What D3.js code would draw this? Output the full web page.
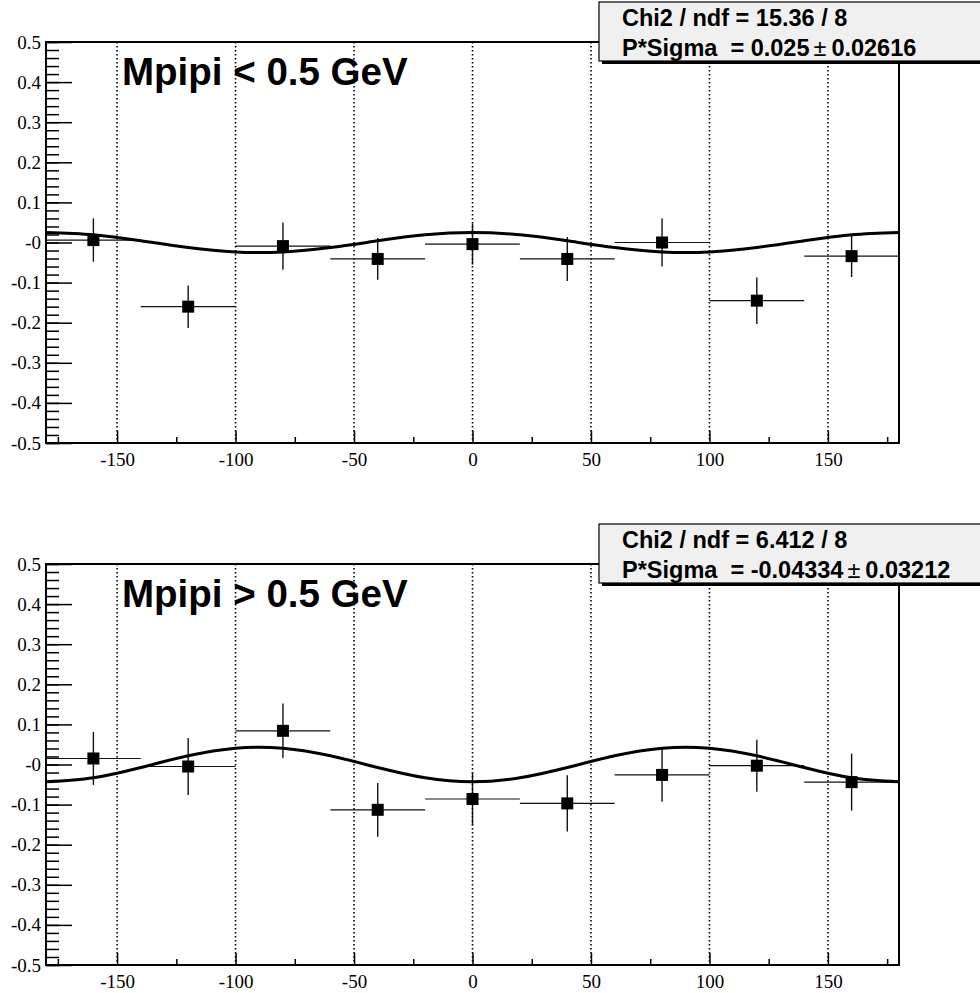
<!DOCTYPE html>
<html lang="en">
<head>
  <meta charset="UTF-8">
  <title>P*Sigma fits</title>
  <style>
    body { margin: 0; background: #fff; }
    svg { display: block; }
    .tick text { font-family: "Liberation Serif", "Times New Roman", serif; font-size: 19px; fill: #000; }
  </style>
</head>
<body>
  <svg id="chart" width="980" height="993"></svg>

  <script src="https://d3js.org/d3.v7.min.js"></script>
  <script>
    // phi bins (deg) and half bin width
    const phiBins = [-160, -120, -80, -40, 0, 40, 80, 120, 160]
    const phiErr = [20, 20, 20, 20, 20, 20, 20, 20, 20]

    // Mpipi < 0.5 GeV
    const asymLow = [0.006, -0.160, -0.009, -0.041, -0.004, -0.041, 0.000, -0.145, -0.034]
    const errLow = [0.054, 0.053, 0.059, 0.052, 0.051, 0.055, 0.060, 0.058, 0.052]

    // Mpipi > 0.5 GeV
    const asymHigh = [0.015, -0.005, 0.084, -0.113, -0.086, -0.097, -0.026, -0.003, -0.044]
    const errHigh = [0.066, 0.071, 0.068, 0.067, 0.066, 0.070, 0.067, 0.065, 0.071]

    // fit curves, read every 20 deg
    const fitPhi = [-180, -160, -140, -120, -100, -80, -60, -40, -20, 0, 20, 40, 60, 80, 100, 120, 140, 160, 180]
    const fitLow = [0.025, 0.0192, 0.0043, -0.0125, -0.0235, -0.0235, -0.0125, 0.0043, 0.0192, 0.025,
      0.0192, 0.0043, -0.0125, -0.0235, -0.0235, -0.0125, 0.0043, 0.0192, 0.025]
    const fitHigh = [-0.0433, -0.0332, -0.0075, 0.0217, 0.0407, 0.0407, 0.0217, -0.0075, -0.0332, -0.0433,
      -0.0332, -0.0075, 0.0217, 0.0407, 0.0407, 0.0217, -0.0075, -0.0332, -0.0433]

    // axis ticks
    const xMajor = [-150, -100, -50, 0, 50, 100, 150]
    const xMinor = [-175, -125, -75, -25, 25, 75, 125, 175]
    const xLabels = ['-150', '-100', '-50', '0', '50', '100', '150']
    const yMajor = [0.5, 0.4, 0.3, 0.2, 0.1, 0, -0.1, -0.2, -0.3, -0.4, -0.5]
    const yLabels = ['0.5', '0.4', '0.3', '0.2', '0.1', '-0', '-0.1', '-0.2', '-0.3', '-0.4', '-0.5']
    const yMinor = d3.range(-50, 51, 2).map(v => v / 100)

    // titles and fit results
    const titles = ['Mpipi < 0.5 GeV', 'Mpipi > 0.5 GeV']
    const chi2Text = ['15.36 / 8', '6.412 / 8']
    const pValue = ['0.025', '-0.04334']
    const pError = ['0.02616', '0.03212']

    const svg = d3.select('#chart')
    const plotLeft = 46
    const plotRight = 899
    const plotHeight = 401
    const panelTops = [42, 564]

    const xscale = d3.scaleLinear().domain([-180, 180]).range([plotLeft, plotRight])

    function drawPanel(idx, values, errors, fit) {
      const top = panelTops[idx]
      const yscale = d3.scaleLinear().domain([-0.5, 0.5]).range([top + plotHeight, top])
      const g = svg.append('g')

      // dotted grid
      g.selectAll('line.grid')
        .data(xMajor)
        .enter()
        .append('line')
        .attr('x1', d => xscale(d))
        .attr('x2', d => xscale(d))
        .attr('y1', top)
        .attr('y2', top + plotHeight)
        .attr('stroke', '#000')
        .attr('stroke-width', 1.6)
        .attr('stroke-dasharray', '1.6,2.4')

      const points = phiBins.map((phi, i) => ({ phi, ex: phiErr[i], v: values[i], ey: errors[i] }))

      // error bars
      const bars = g.append('g').attr('stroke', '#111')
      bars.selectAll('line.ex')
        .data(points)
        .enter()
        .append('line')
        .attr('x1', d => xscale(d.phi - d.ex))
        .attr('x2', d => xscale(d.phi + d.ex))
        .attr('y1', d => yscale(d.v))
        .attr('y2', d => yscale(d.v))
        .attr('stroke-width', 1.2)
      bars.selectAll('line.ey')
        .data(points)
        .enter()
        .append('line')
        .attr('x1', d => xscale(d.phi))
        .attr('x2', d => xscale(d.phi))
        .attr('y1', d => yscale(d.v + d.ey))
        .attr('y2', d => yscale(d.v - d.ey))
        .attr('stroke-width', 1.4)

      // fit curve
      const line = d3.line()
        .x(d => xscale(d[0]))
        .y(d => yscale(d[1]))
        .curve(d3.curveNatural)
      g.append('path')
        .datum(fitPhi.map((p, i) => [p, fit[i]]))
        .attr('d', line)
        .attr('fill', 'none')
        .attr('stroke', '#000')
        .attr('stroke-width', 3)

      // markers
      g.selectAll('rect.marker')
        .data(points)
        .enter()
        .append('rect')
        .attr('x', d => xscale(d.phi) - 6)
        .attr('y', d => yscale(d.v) - 6)
        .attr('width', 12)
        .attr('height', 12)
        .attr('fill', '#000')

      // frame
      g.append('rect')
        .attr('x', plotLeft)
        .attr('y', top)
        .attr('width', plotRight - plotLeft)
        .attr('height', plotHeight)
        .attr('fill', 'none')
        .attr('stroke', '#000')
        .attr('stroke-width', 2)

      // axes (ticks pointing into the frame)
      g.append('g')
        .attr('transform', `translate(${plotLeft}, 0)`)
        .call(d3.axisLeft(yscale).tickValues(yMinor).tickSize(-13).tickFormat(''))
        .call(a => a.select('.domain').remove())
      g.append('g')
        .attr('transform', `translate(${plotLeft}, 0)`)
        .call(d3.axisLeft(yscale).tickValues(yMajor).tickSize(-26).tickPadding(5).tickFormat((d, i) => yLabels[i]))
        .call(a => a.select('.domain').remove())

      g.append('g')
        .attr('transform', `translate(0, ${top + plotHeight})`)
        .call(d3.axisBottom(xscale).tickValues(xMinor).tickSize(-6).tickFormat(''))
        .call(a => a.select('.domain').remove())
      g.append('g')
        .attr('transform', `translate(0, ${top + plotHeight})`)
        .call(d3.axisBottom(xscale).tickValues(xMajor).tickSize(-12).tickPadding(10).tickFormat((d, i) => xLabels[i]))
        .call(a => a.select('.domain').remove())
      g.selectAll('.tick line').attr('stroke', '#000').attr('stroke-width', 1.5)

      // panel title
      g.append('text')
        .attr('x', 122)
        .attr('y', top + 43)
        .attr('font-family', '"Liberation Sans", Arial, sans-serif')
        .attr('font-weight', 'bold')
        .attr('font-size', 38.5)
        .text(titles[idx])

      // stats box
      g.append('rect')
        .attr('x', 602)
        .attr('y', top - 37)
        .attr('width', 400)
        .attr('height', 59)
        .attr('fill', '#000')
      g.append('rect')
        .attr('x', 599)
        .attr('y', top - 40)
        .attr('width', 400)
        .attr('height', 59)
        .attr('fill', '#f0f0f0')
        .attr('stroke', '#000')
        .attr('stroke-width', 1.2)

      const stats = g.append('g')
        .attr('font-family', '"Liberation Sans", Arial, sans-serif')
        .attr('font-weight', 'bold')
        .attr('font-size', 23.5)
      stats.append('text')
        .attr('x', 622)
        .attr('y', top - 16)
        .text(`Chi2 / ndf = ${chi2Text[idx]}`)
      const t2 = stats.append('text')
        .attr('x', 622)
        .attr('y', top + 14)
        .attr('xml:space', 'preserve')
      t2.append('tspan').text(`P*Sigma  = ${pValue[idx]}`)
      t2.append('tspan').attr('dx', 4).attr('font-weight', 'normal').text('\u00b1')
      t2.append('tspan').attr('dx', 5).text(pError[idx])
    }

    drawPanel(0, asymLow, errLow, fitLow)
    drawPanel(1, asymHigh, errHigh, fitHigh)
  </script>
</body>
</html>
